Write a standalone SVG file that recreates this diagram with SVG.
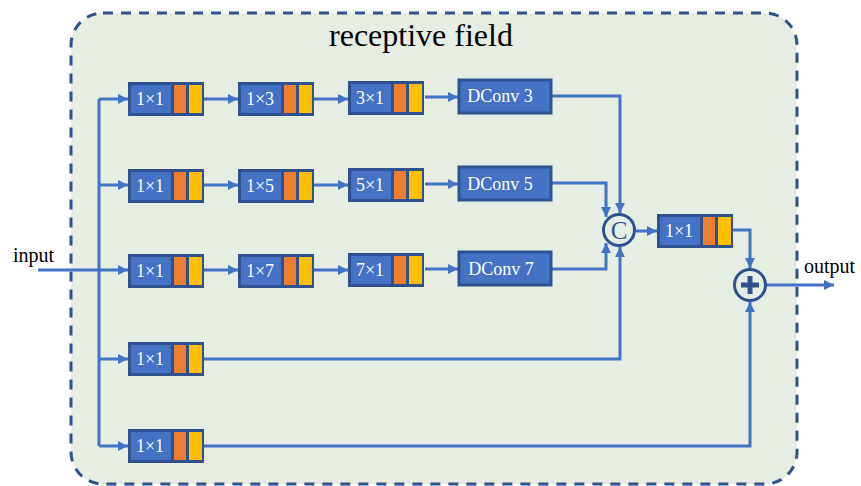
<svg xmlns="http://www.w3.org/2000/svg" xmlns:xlink="http://www.w3.org/1999/xlink" width="861" height="486" viewBox="0 0 861 486">
<style>
.ln{fill:none;stroke:#4472C4;stroke-width:3}
.bt{font-family:"Liberation Serif",serif;font-size:18px;fill:#fff;text-anchor:middle}
.lb{font-family:"Liberation Serif",serif;font-size:20px;fill:#000}
.dc{fill:#4472C4;stroke:#2F528F;stroke-width:3}
</style>
<defs>
<marker id="ah" markerWidth="10" markerHeight="10" refX="10" refY="5" orient="auto" markerUnits="userSpaceOnUse">
<path d="M0,0 L10,5 L0,10 Z" fill="#4472C4"/>
</marker>
<g id="blk">
<rect x="0" y="0" width="76" height="34" fill="#2F528F"/>
<rect x="3" y="3" width="40" height="28" fill="#4472C4"/>
<rect x="46" y="3" width="12" height="28" fill="#ED7D31"/>
<rect x="61" y="3" width="13" height="28" fill="#FFC000"/>
</g>
</defs>
<rect x="71" y="13" width="726" height="471" rx="32" fill="#E6EDE3" stroke="#2F528F" stroke-width="3" stroke-dasharray="10 8"/>
<text x="421" y="46" font-family="Liberation Serif, serif" font-size="32" text-anchor="middle">receptive field</text>
<g id="connectors">
<path class="ln" d="M99,99 V446"/>
<path class="ln" d="M38,270 H128" marker-end="url(#ah)"/>
<path class="ln" d="M99,99 H128" marker-end="url(#ah)"/>
<path class="ln" d="M99,185 H128" marker-end="url(#ah)"/>
<path class="ln" d="M99,359 H128" marker-end="url(#ah)"/>
<path class="ln" d="M99,446 H128" marker-end="url(#ah)"/>
<path class="ln" d="M204,99 H238" marker-end="url(#ah)"/>
<path class="ln" d="M314,99 H348" marker-end="url(#ah)"/>
<path class="ln" d="M425,97 H458" marker-end="url(#ah)"/>
<path class="ln" d="M204,185 H238" marker-end="url(#ah)"/>
<path class="ln" d="M314,185 H348" marker-end="url(#ah)"/>
<path class="ln" d="M425,184 H458" marker-end="url(#ah)"/>
<path class="ln" d="M204,270 H238" marker-end="url(#ah)"/>
<path class="ln" d="M314,270 H348" marker-end="url(#ah)"/>
<path class="ln" d="M425,269 H458" marker-end="url(#ah)"/>
<path class="ln" d="M551,96 H620 V213" marker-end="url(#ah)"/>
<path class="ln" d="M551,183 H606 V217" marker-end="url(#ah)"/>
<path class="ln" d="M551,269 H606 V243" marker-end="url(#ah)"/>
<path class="ln" d="M204,359 H620 V247" marker-end="url(#ah)"/>
<path class="ln" d="M636,231 H657" marker-end="url(#ah)"/>
<path class="ln" d="M733,230 H750 V268" marker-end="url(#ah)"/>
<path class="ln" d="M204,446 H750 V302" marker-end="url(#ah)"/>
<path class="ln" d="M766,285 H834" marker-end="url(#ah)"/>
</g>
<text class="lb" x="13" y="262">input</text>
<text class="lb" x="804" y="273">output</text>
<g id="r1b1"><use xlink:href="#blk" x="128" y="82"/><text class="bt" x="150" y="105">1×1</text></g>
<g id="r1b2"><use xlink:href="#blk" x="238" y="82"/><text class="bt" x="260" y="105">1×3</text></g>
<g id="r1b3"><use xlink:href="#blk" x="348" y="81"/><text class="bt" x="370" y="104">3×1</text></g>
<g id="dconv3"><rect class="dc" x="459" y="80" width="92" height="33"/><text class="bt" x="500" y="102" font-size="17">DConv 3</text></g>
<g id="r2b1"><use xlink:href="#blk" x="128" y="169"/><text class="bt" x="150" y="192">1×1</text></g>
<g id="r2b2"><use xlink:href="#blk" x="238" y="169"/><text class="bt" x="260" y="192">1×5</text></g>
<g id="r2b3"><use xlink:href="#blk" x="348" y="168"/><text class="bt" x="370" y="191">5×1</text></g>
<g id="dconv5"><rect class="dc" x="459" y="167" width="92" height="33"/><text class="bt" x="500" y="190" font-size="17">DConv 5</text></g>
<g id="r3b1"><use xlink:href="#blk" x="128" y="254"/><text class="bt" x="150" y="277">1×1</text></g>
<g id="r3b2"><use xlink:href="#blk" x="238" y="254"/><text class="bt" x="260" y="277">1×7</text></g>
<g id="r3b3"><use xlink:href="#blk" x="348" y="253"/><text class="bt" x="370" y="276">7×1</text></g>
<g id="dconv7"><rect class="dc" x="459" y="252" width="92" height="33"/><text class="bt" x="501" y="275" font-size="17">DConv 7</text></g>
<g id="r4b1"><use xlink:href="#blk" x="128" y="342"/><text class="bt" x="150" y="365">1×1</text></g>
<g id="r5b1"><use xlink:href="#blk" x="128" y="429"/><text class="bt" x="150" y="452">1×1</text></g>
<g id="concat"><circle cx="619" cy="230" r="15.5" fill="#E6EDE3" stroke="#2F528F" stroke-width="3"/><text x="619" y="239" font-family="Liberation Serif, serif" font-size="25" fill="#2F528F" text-anchor="middle">C</text></g>
<g id="fuse"><use xlink:href="#blk" x="657" y="214"/><text class="bt" x="679" y="237">1×1</text></g>
<g id="add"><circle cx="750" cy="285" r="15.5" fill="#E6EDE3" stroke="#2F528F" stroke-width="3"/><path d="M750,276 V294 M741,285 H759" stroke="#2F528F" stroke-width="5"/></g>
</svg>
